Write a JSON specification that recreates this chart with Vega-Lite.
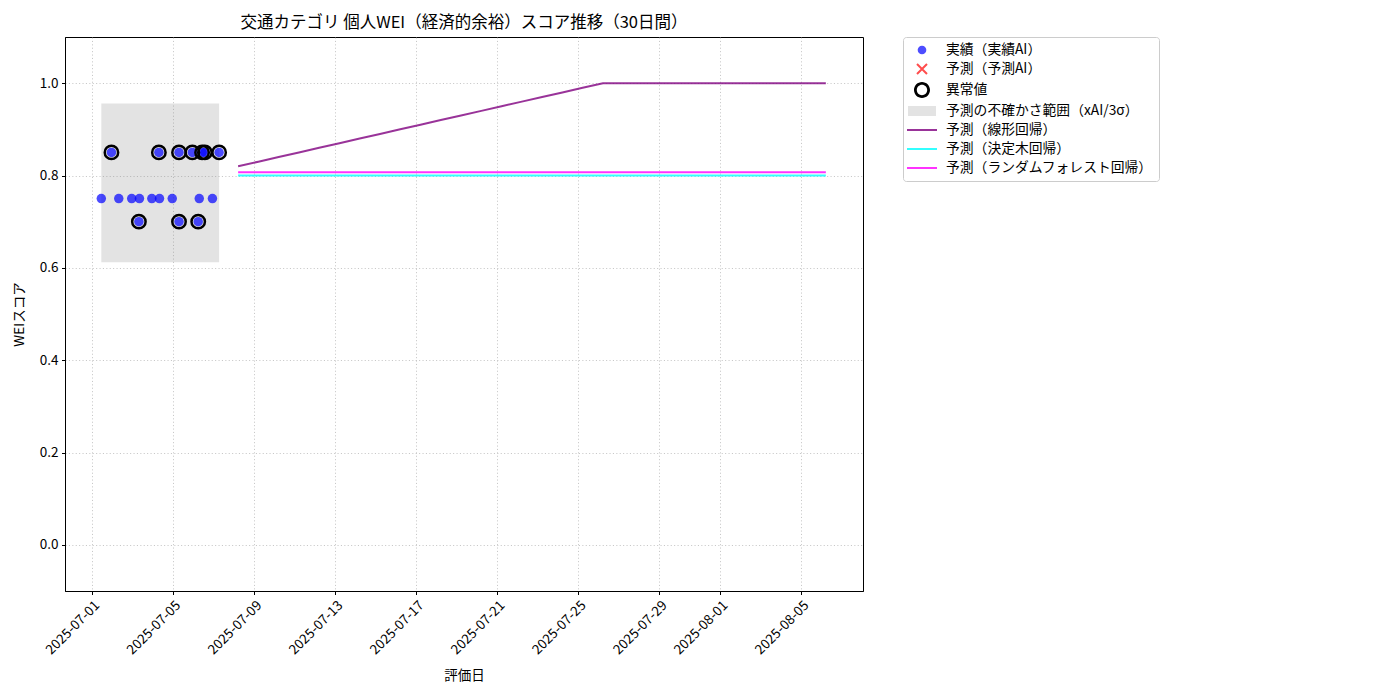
{
  "$schema": "https://vega.github.io/schema/vega-lite/v6.json",
  "width": 798,
  "height": 554,
  "autosize": {"type": "none"},
  "padding": {"left": 65, "top": 37, "right": 537, "bottom": 109},
  "background": "white",
  "config": {
    "font": "Noto Sans CJK JP",
    "view": {"stroke": "black", "strokeWidth": 1},
    "axis": {
      "domainColor": "black",
      "tickColor": "black",
      "tickSize": 3.5,
      "labelColor": "black",
      "titleColor": "black",
      "labelFontSize": 13.5,
      "titleFontSize": 13.5,
      "titleFontWeight": "normal",
      "labelPadding": 3.5,
      "gridColor": "#b0b0b0",
      "gridOpacity": 0.7,
      "gridDash": [1.1, 2.3],
      "gridWidth": 1
    },
    "legend": {
      "labelFont": "Noto Sans CJK JP",
      "labelColor": "black",
      "labelFontSize": 13.8,
      "labelLimit": 400
    }
  },
  "title": {
    "text": "交通カテゴリ 個人WEI（経済的余裕）スコア推移（30日間）",
    "fontSize": 16.5,
    "fontWeight": "normal",
    "color": "black",
    "anchor": "middle",
    "offset": 5
  },
  "datasets": {
    "actual": [
      {"date": "2025-07-01T11:00:00", "wei": 0.75, "outlier": false},
      {"date": "2025-07-01T23:00:00", "wei": 0.85, "outlier": true},
      {"date": "2025-07-02T07:40:00", "wei": 0.75, "outlier": false},
      {"date": "2025-07-02T23:00:00", "wei": 0.75, "outlier": false},
      {"date": "2025-07-03T07:30:00", "wei": 0.7, "outlier": true},
      {"date": "2025-07-03T08:10:00", "wei": 0.75, "outlier": false},
      {"date": "2025-07-03T22:50:00", "wei": 0.75, "outlier": false},
      {"date": "2025-07-04T07:10:00", "wei": 0.85, "outlier": true},
      {"date": "2025-07-04T07:55:00", "wei": 0.75, "outlier": false},
      {"date": "2025-07-04T23:00:00", "wei": 0.75, "outlier": false},
      {"date": "2025-07-05T07:00:00", "wei": 0.85, "outlier": true},
      {"date": "2025-07-05T07:00:00", "wei": 0.7, "outlier": true},
      {"date": "2025-07-05T22:50:00", "wei": 0.85, "outlier": true},
      {"date": "2025-07-06T05:45:00", "wei": 0.7, "outlier": true},
      {"date": "2025-07-06T07:00:00", "wei": 0.75, "outlier": false},
      {"date": "2025-07-06T10:20:00", "wei": 0.85, "outlier": true},
      {"date": "2025-07-06T13:40:00", "wei": 0.85, "outlier": true},
      {"date": "2025-07-06T22:35:00", "wei": 0.75, "outlier": false},
      {"date": "2025-07-07T06:30:00", "wei": 0.85, "outlier": true}
    ],
    "band": [
      {"start": "2025-07-01T11:00:00", "end": "2025-07-07T06:30:00", "lo": 0.612, "hi": 0.956}
    ],
    "pred": [
      {"date": "2025-07-08T05:00:00", "wei": 0.82, "series": "予測（線形回帰）"},
      {"date": "2025-07-09T05:00:00", "wei": 0.83, "series": "予測（線形回帰）"},
      {"date": "2025-07-10T05:00:00", "wei": 0.84, "series": "予測（線形回帰）"},
      {"date": "2025-07-11T05:00:00", "wei": 0.85, "series": "予測（線形回帰）"},
      {"date": "2025-07-12T05:00:00", "wei": 0.86, "series": "予測（線形回帰）"},
      {"date": "2025-07-13T05:00:00", "wei": 0.87, "series": "予測（線形回帰）"},
      {"date": "2025-07-14T05:00:00", "wei": 0.88, "series": "予測（線形回帰）"},
      {"date": "2025-07-15T05:00:00", "wei": 0.89, "series": "予測（線形回帰）"},
      {"date": "2025-07-16T05:00:00", "wei": 0.9, "series": "予測（線形回帰）"},
      {"date": "2025-07-17T05:00:00", "wei": 0.91, "series": "予測（線形回帰）"},
      {"date": "2025-07-18T05:00:00", "wei": 0.92, "series": "予測（線形回帰）"},
      {"date": "2025-07-19T05:00:00", "wei": 0.93, "series": "予測（線形回帰）"},
      {"date": "2025-07-20T05:00:00", "wei": 0.94, "series": "予測（線形回帰）"},
      {"date": "2025-07-21T05:00:00", "wei": 0.95, "series": "予測（線形回帰）"},
      {"date": "2025-07-22T05:00:00", "wei": 0.96, "series": "予測（線形回帰）"},
      {"date": "2025-07-23T05:00:00", "wei": 0.97, "series": "予測（線形回帰）"},
      {"date": "2025-07-24T05:00:00", "wei": 0.98, "series": "予測（線形回帰）"},
      {"date": "2025-07-25T05:00:00", "wei": 0.99, "series": "予測（線形回帰）"},
      {"date": "2025-07-26T05:00:00", "wei": 1.0, "series": "予測（線形回帰）"},
      {"date": "2025-07-27T05:00:00", "wei": 1.0, "series": "予測（線形回帰）"},
      {"date": "2025-07-28T05:00:00", "wei": 1.0, "series": "予測（線形回帰）"},
      {"date": "2025-07-29T05:00:00", "wei": 1.0, "series": "予測（線形回帰）"},
      {"date": "2025-07-30T05:00:00", "wei": 1.0, "series": "予測（線形回帰）"},
      {"date": "2025-07-31T05:00:00", "wei": 1.0, "series": "予測（線形回帰）"},
      {"date": "2025-08-01T05:00:00", "wei": 1.0, "series": "予測（線形回帰）"},
      {"date": "2025-08-02T05:00:00", "wei": 1.0, "series": "予測（線形回帰）"},
      {"date": "2025-08-03T05:00:00", "wei": 1.0, "series": "予測（線形回帰）"},
      {"date": "2025-08-04T05:00:00", "wei": 1.0, "series": "予測（線形回帰）"},
      {"date": "2025-08-05T05:00:00", "wei": 1.0, "series": "予測（線形回帰）"},
      {"date": "2025-08-06T05:00:00", "wei": 1.0, "series": "予測（線形回帰）"},
      {"date": "2025-07-08T05:00:00", "wei": 0.8, "series": "予測（決定木回帰）"},
      {"date": "2025-07-09T05:00:00", "wei": 0.8, "series": "予測（決定木回帰）"},
      {"date": "2025-07-10T05:00:00", "wei": 0.8, "series": "予測（決定木回帰）"},
      {"date": "2025-07-11T05:00:00", "wei": 0.8, "series": "予測（決定木回帰）"},
      {"date": "2025-07-12T05:00:00", "wei": 0.8, "series": "予測（決定木回帰）"},
      {"date": "2025-07-13T05:00:00", "wei": 0.8, "series": "予測（決定木回帰）"},
      {"date": "2025-07-14T05:00:00", "wei": 0.8, "series": "予測（決定木回帰）"},
      {"date": "2025-07-15T05:00:00", "wei": 0.8, "series": "予測（決定木回帰）"},
      {"date": "2025-07-16T05:00:00", "wei": 0.8, "series": "予測（決定木回帰）"},
      {"date": "2025-07-17T05:00:00", "wei": 0.8, "series": "予測（決定木回帰）"},
      {"date": "2025-07-18T05:00:00", "wei": 0.8, "series": "予測（決定木回帰）"},
      {"date": "2025-07-19T05:00:00", "wei": 0.8, "series": "予測（決定木回帰）"},
      {"date": "2025-07-20T05:00:00", "wei": 0.8, "series": "予測（決定木回帰）"},
      {"date": "2025-07-21T05:00:00", "wei": 0.8, "series": "予測（決定木回帰）"},
      {"date": "2025-07-22T05:00:00", "wei": 0.8, "series": "予測（決定木回帰）"},
      {"date": "2025-07-23T05:00:00", "wei": 0.8, "series": "予測（決定木回帰）"},
      {"date": "2025-07-24T05:00:00", "wei": 0.8, "series": "予測（決定木回帰）"},
      {"date": "2025-07-25T05:00:00", "wei": 0.8, "series": "予測（決定木回帰）"},
      {"date": "2025-07-26T05:00:00", "wei": 0.8, "series": "予測（決定木回帰）"},
      {"date": "2025-07-27T05:00:00", "wei": 0.8, "series": "予測（決定木回帰）"},
      {"date": "2025-07-28T05:00:00", "wei": 0.8, "series": "予測（決定木回帰）"},
      {"date": "2025-07-29T05:00:00", "wei": 0.8, "series": "予測（決定木回帰）"},
      {"date": "2025-07-30T05:00:00", "wei": 0.8, "series": "予測（決定木回帰）"},
      {"date": "2025-07-31T05:00:00", "wei": 0.8, "series": "予測（決定木回帰）"},
      {"date": "2025-08-01T05:00:00", "wei": 0.8, "series": "予測（決定木回帰）"},
      {"date": "2025-08-02T05:00:00", "wei": 0.8, "series": "予測（決定木回帰）"},
      {"date": "2025-08-03T05:00:00", "wei": 0.8, "series": "予測（決定木回帰）"},
      {"date": "2025-08-04T05:00:00", "wei": 0.8, "series": "予測（決定木回帰）"},
      {"date": "2025-08-05T05:00:00", "wei": 0.8, "series": "予測（決定木回帰）"},
      {"date": "2025-08-06T05:00:00", "wei": 0.8, "series": "予測（決定木回帰）"},
      {"date": "2025-07-08T05:00:00", "wei": 0.807, "series": "予測（ランダムフォレスト回帰）"},
      {"date": "2025-07-09T05:00:00", "wei": 0.807, "series": "予測（ランダムフォレスト回帰）"},
      {"date": "2025-07-10T05:00:00", "wei": 0.807, "series": "予測（ランダムフォレスト回帰）"},
      {"date": "2025-07-11T05:00:00", "wei": 0.807, "series": "予測（ランダムフォレスト回帰）"},
      {"date": "2025-07-12T05:00:00", "wei": 0.807, "series": "予測（ランダムフォレスト回帰）"},
      {"date": "2025-07-13T05:00:00", "wei": 0.807, "series": "予測（ランダムフォレスト回帰）"},
      {"date": "2025-07-14T05:00:00", "wei": 0.807, "series": "予測（ランダムフォレスト回帰）"},
      {"date": "2025-07-15T05:00:00", "wei": 0.807, "series": "予測（ランダムフォレスト回帰）"},
      {"date": "2025-07-16T05:00:00", "wei": 0.807, "series": "予測（ランダムフォレスト回帰）"},
      {"date": "2025-07-17T05:00:00", "wei": 0.807, "series": "予測（ランダムフォレスト回帰）"},
      {"date": "2025-07-18T05:00:00", "wei": 0.807, "series": "予測（ランダムフォレスト回帰）"},
      {"date": "2025-07-19T05:00:00", "wei": 0.807, "series": "予測（ランダムフォレスト回帰）"},
      {"date": "2025-07-20T05:00:00", "wei": 0.807, "series": "予測（ランダムフォレスト回帰）"},
      {"date": "2025-07-21T05:00:00", "wei": 0.807, "series": "予測（ランダムフォレスト回帰）"},
      {"date": "2025-07-22T05:00:00", "wei": 0.807, "series": "予測（ランダムフォレスト回帰）"},
      {"date": "2025-07-23T05:00:00", "wei": 0.807, "series": "予測（ランダムフォレスト回帰）"},
      {"date": "2025-07-24T05:00:00", "wei": 0.807, "series": "予測（ランダムフォレスト回帰）"},
      {"date": "2025-07-25T05:00:00", "wei": 0.807, "series": "予測（ランダムフォレスト回帰）"},
      {"date": "2025-07-26T05:00:00", "wei": 0.807, "series": "予測（ランダムフォレスト回帰）"},
      {"date": "2025-07-27T05:00:00", "wei": 0.807, "series": "予測（ランダムフォレスト回帰）"},
      {"date": "2025-07-28T05:00:00", "wei": 0.807, "series": "予測（ランダムフォレスト回帰）"},
      {"date": "2025-07-29T05:00:00", "wei": 0.807, "series": "予測（ランダムフォレスト回帰）"},
      {"date": "2025-07-30T05:00:00", "wei": 0.807, "series": "予測（ランダムフォレスト回帰）"},
      {"date": "2025-07-31T05:00:00", "wei": 0.807, "series": "予測（ランダムフォレスト回帰）"},
      {"date": "2025-08-01T05:00:00", "wei": 0.807, "series": "予測（ランダムフォレスト回帰）"},
      {"date": "2025-08-02T05:00:00", "wei": 0.807, "series": "予測（ランダムフォレスト回帰）"},
      {"date": "2025-08-03T05:00:00", "wei": 0.807, "series": "予測（ランダムフォレスト回帰）"},
      {"date": "2025-08-04T05:00:00", "wei": 0.807, "series": "予測（ランダムフォレスト回帰）"},
      {"date": "2025-08-05T05:00:00", "wei": 0.807, "series": "予測（ランダムフォレスト回帰）"},
      {"date": "2025-08-06T05:00:00", "wei": 0.807, "series": "予測（ランダムフォレスト回帰）"}
    ]
  },
  "encoding": {
    "x": {
      "field": "date",
      "type": "temporal",
      "scale": {
        "domain": [
          {"year": 2025, "month": 6, "date": 29, "hours": 16, "minutes": 0},
          {"year": 2025, "month": 8, "date": 8, "hours": 1, "minutes": 0}
        ]
      },
      "axis": {
        "title": "評価日",
        "format": "%Y-%m-%d",
        "labelAngle": -45,
        "labelAlign": "right",
        "labelBaseline": "top",
        "titlePadding": 12,
        "values": [
          {"year": 2025, "month": 7, "date": 1},
          {"year": 2025, "month": 7, "date": 5},
          {"year": 2025, "month": 7, "date": 9},
          {"year": 2025, "month": 7, "date": 13},
          {"year": 2025, "month": 7, "date": 17},
          {"year": 2025, "month": 7, "date": 21},
          {"year": 2025, "month": 7, "date": 25},
          {"year": 2025, "month": 7, "date": 29},
          {"year": 2025, "month": 8, "date": 1},
          {"year": 2025, "month": 8, "date": 5}
        ]
      }
    },
    "y": {
      "field": "wei",
      "type": "quantitative",
      "scale": {"domain": [-0.1, 1.1], "nice": false, "zero": false},
      "axis": {
        "title": "WEIスコア",
        "format": ".1f",
        "values": [0, 0.2, 0.4, 0.6, 0.8, 1.0],
        "titlePadding": 13
      }
    }
  },
  "layer": [
    {
      "data": {"name": "band"},
      "mark": {"type": "rect", "color": "gray", "opacity": 0.22},
      "encoding": {
        "x": {"field": "start", "type": "temporal"},
        "x2": {"field": "end"},
        "y": {"field": "lo", "type": "quantitative"},
        "y2": {"field": "hi"}
      }
    },
    {
      "data": {"name": "pred"},
      "mark": {"type": "line", "strokeWidth": 2, "opacity": 0.8},
      "encoding": {
        "stroke": {
          "field": "series",
          "type": "nominal",
          "scale": {
            "domain": ["予測（線形回帰）", "予測（決定木回帰）", "予測（ランダムフォレスト回帰）"],
            "range": ["#800080", "#00ffff", "#ff00ff"]
          },
          "legend": null
        }
      }
    },
    {
      "data": {"name": "actual"},
      "mark": {"type": "point", "shape": "circle", "filled": true, "size": 90, "color": "blue", "opacity": 0.7, "strokeWidth": 0}
    },
    {
      "data": {"name": "actual"},
      "transform": [{"filter": "datum.outlier"}],
      "mark": {"type": "point", "shape": "circle", "filled": false, "size": 180, "stroke": "black", "strokeWidth": 2.5, "opacity": 1}
    },
    {
      "data": {"name": "actual"},
      "mark": {"type": "point", "filled": true, "opacity": 0},
      "encoding": {
        "color": {
          "datum": "実績（実績AI）",
          "type": "nominal",
          "scale": {
            "domain": [
              "実績（実績AI）",
              "予測（予測AI）",
              "異常値",
              "予測の不確かさ範囲（xAI/3σ）",
              "予測（線形回帰）",
              "予測（決定木回帰）",
              "予測（ランダムフォレスト回帰）"
            ],
            "range": ["#4d4dff", "#ff4d4d", "#000000", "#e3e3e3", "#993399", "#33ffff", "#ff33ff"]
          },
          "legend": {
            "title": null,
            "orient": "right",
            "offset": 40,
            "padding": 6,
            "symbolSize": 196,
            "symbolOffset": 6,
            "symbolOpacity": 1,
            "symbolStrokeWidth": 0,
            "rowPadding": 5,
            "labelOffset": 17,
            "strokeColor": "#cccccc",
            "fillColor": "white",
            "cornerRadius": 3
          }
        },
        "shape": {
          "datum": "実績（実績AI）",
          "type": "nominal",
          "scale": {
            "domain": [
              "実績（実績AI）",
              "予測（予測AI）",
              "異常値",
              "予測の不確かさ範囲（xAI/3σ）",
              "予測（線形回帰）",
              "予測（決定木回帰）",
              "予測（ランダムフォレスト回帰）"
            ],
            "range": [
              "M-0.62,0A0.62,0.62 0 1,0 0.62,0A0.62,0.62 0 1,0 -0.62,0Z",
              "M-0.815,-0.613L-0.613,-0.815L0.815,0.613L0.613,0.815ZM-0.613,0.815L-0.815,0.613L0.613,-0.815L0.815,-0.613Z",
              "M-1.143,0A1.143,1.143 0 1,0 1.143,0A1.143,1.143 0 1,0 -1.143,0ZM-0.743,0A0.743,0.743 0 1,1 0.743,0A0.743,0.743 0 1,1 -0.743,0Z",
              "M-2,-0.714H2V0.714H-2Z",
              "M-2.14,-0.143H2.14V0.143H-2.14Z",
              "M-2.14,-0.143H2.14V0.143H-2.14Z",
              "M-2.14,-0.143H2.14V0.143H-2.14Z"
            ]
          },
          "legend": {"title": null}
        }
      }
    }
  ]
}
